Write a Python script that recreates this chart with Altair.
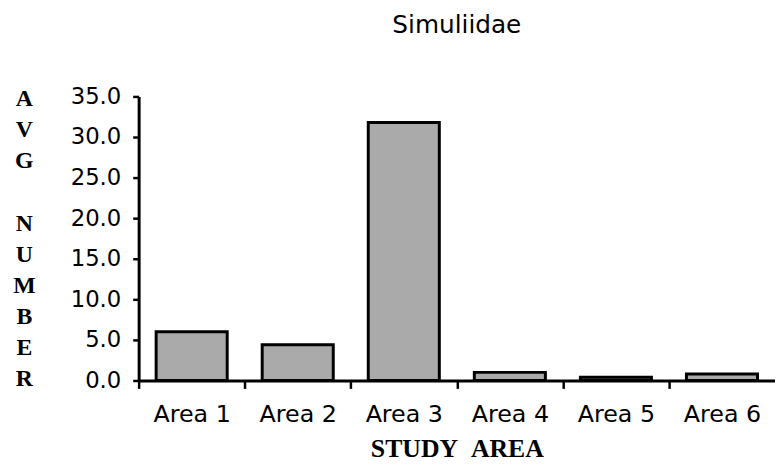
import altair as alt
import pandas as pd

areas = ["Area 1", "Area 2", "Area 3", "Area 4", "Area 5", "Area 6"]
avg_number = [6.0, 4.4, 31.8, 1.0, 0.4, 0.8]
y_ticks = [0, 5, 10, 15, 20, 25, 30, 35]
y_title_lines = ["A", "V", "G", "\u200b", "N", "U", "M", "B", "E", "R"]

df = pd.DataFrame({"area": areas, "value": avg_number})

plot_w = 643
step = plot_w / len(areas)

bars = alt.Chart(df).mark_bar(
    fill="#aaaaaa", stroke="black", strokeWidth=3,
    width=alt.RelativeBandSize(0.67)
).encode(
    x=alt.X("area:N", sort=areas,
            scale=alt.Scale(paddingInner=0, paddingOuter=0),
            axis=alt.Axis(
                title="STUDY\u00a0\u00a0AREA", labelAngle=0,
                labelFont="DejaVu Sans", labelFontSize=24, labelColor="black",
                labelPadding=14, tickOffset=-step / 2, labelOffset=step / 2,
                tickSize=8, tickWidth=2.5,
                tickColor="black", domainColor="black", domainWidth=3,
                titleFont="Liberation Serif", titleFontWeight="bold",
                titleFontSize=26, titleColor="black", titlePadding=10)),
    y=alt.Y("value:Q", scale=alt.Scale(domain=[0, 35], nice=False),
            axis=alt.Axis(
                values=y_ticks, format=".1f", grid=False,
                title=y_title_lines, titleAngle=0, titleAlign="center",
                titleBaseline="top", titleX=-116, titleY=-10,
                titleLineHeight=31.5, titleFont="Liberation Serif",
                titleFontWeight="bold", titleFontSize=24, titleColor="black",
                labelFont="DejaVu Sans", labelFontSize=23, labelColor="black",
                labelPadding=12, tickSize=6, tickWidth=2.5, tickColor="black",
                domainColor="black", domainWidth=3))
)

chart = bars.properties(
    width=plot_w, height=287,
    title=alt.TitleParams("Simuliidae", font="DejaVu Sans", fontSize=25,
                          fontWeight="normal", color="black",
                          anchor="middle", offset=48),
    autosize=alt.AutoSizeParams(type="none"),
    padding={"left": 132, "top": 87, "right": 0, "bottom": 80},
).configure(background="white").configure_view(stroke=None)

chart.save("out.html", embed_options={"renderer": "svg", "actions": False})
